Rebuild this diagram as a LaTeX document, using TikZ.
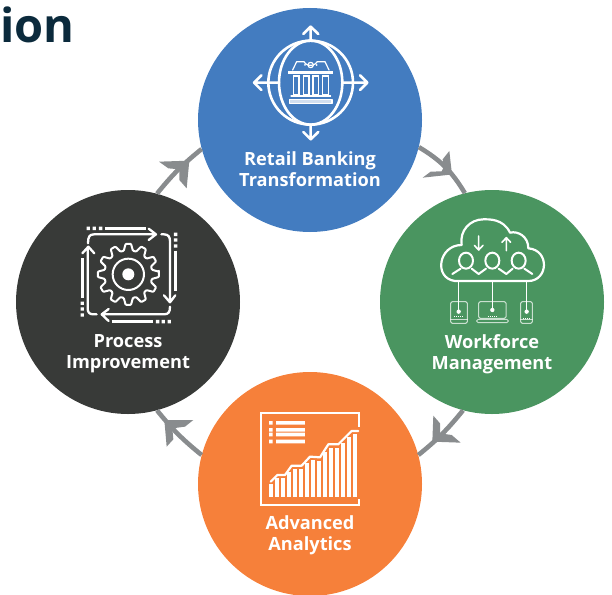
\documentclass[tikz,border=0pt]{standalone}
\usepackage{fontspec}
\usetikzlibrary{calc}
\setmainfont{Open Sans}
\definecolor{cblue}{HTML}{437CC0}
\definecolor{cgreen}{HTML}{4A9560}
\definecolor{corange}{HTML}{F6803A}
\definecolor{cdark}{HTML}{383A38}
\definecolor{cgray}{HTML}{898C8E}
\definecolor{cnavy}{HTML}{0B2A3C}
\tikzset{
  disc/.style={circle,minimum size=224pt,inner sep=0pt,fill=#1},
  lab/.style={text=white,font=\fontsize{18.2}{21}\selectfont\bfseries,align=center,inner sep=0pt},
  flow/.style={draw=cgray,line width=4.6pt},
  barb/.style={fill=cgray,draw=none},
  ic/.style={draw=white,line width=#1,line cap=round,line join=round,fill=none},
  ic/.default=1.8pt,
  zoomed/.style={shift={#1},x=0.3333pt,y=-0.3333pt}
}
\begin{document}
\begin{tikzpicture}[x=1pt,y=-1pt]
\useasboundingbox (0,0) rectangle (612,594);
\clip (0,0) rectangle (612,594);
\node[anchor=base west,inner sep=0pt,text=cnavy,font=\fontsize{47}{47}\selectfont\bfseries] (title) at (0,42) {ion};
\node[disc=cblue] (bank) at (310,120) {};
\node[disc=cgreen] (work) at (492,302) {};
\node[disc=corange] (ana) at (310,484) {};
\node[disc=cdark] (proc) at (128,302) {};
\draw[flow] (bank.-14) to[bend left=14] (work.104);
\draw[flow] (work.-105) to[bend left=6] (ana.15);
\draw[flow] (ana.165) to[bend left=6] (proc.-75);
\draw[flow] (proc.75) to[bend left=6] (bank.195);
\begin{scope}[zoomed={(400,130)}]
\fill[barb] (148,63)--(128,88)--(132,110)--(125,124)--(92,125)--(68,143)--(160,133)--(155,125)--cycle;
\end{scope}
\begin{scope}[zoomed={(140,130)}]
\fill[barb] (57,95)--(148,92)--(140,175)--(118,150)--(118,118)--(85,115)--cycle;
\end{scope}
\begin{scope}[zoomed={(140,400)}]
\fill[barb] (160,60)--(73,60)--(80,140)--(100,118)--(97,85)--(135,80)--cycle;
\end{scope}
\begin{scope}[zoomed={(400,400)}]
\fill[barb] (100,47)--(120,70)--(120,100)--(155,105)--(182,128)--(97,125)--cycle;
\end{scope}
% labels
\node[lab] (l1) at (310,169) {Retail Banking\\Transformation};
\node[lab] (l2) at (492,354) {Workforce\\Management};
\node[lab] (l3) at (128,354) {Process\\Improvement};
\node[lab] (l4) at (310,535.5) {Advanced\\Analytics};
% bank icon
\begin{scope}[zoomed={(230,10)}]
\draw[ic=2.6pt] (242,218) ellipse [x radius=127,y radius=126];
\draw[ic=2.6pt] (242,218) ellipse [x radius=95,y radius=126];
\draw[ic=2.6pt] (242,92)--(242,50) (220,72)--(242,50)--(265,72);
\draw[ic=2.6pt] (242,345)--(242,388) (220,366)--(242,388)--(265,366);
\draw[ic=2.6pt] (147,218)--(72,218) (94,196)--(72,218)--(94,240);
\draw[ic=2.6pt] (338,218)--(412,218) (390,196)--(412,218)--(390,240);
\draw[ic=1.2pt] (188,180)--(200,155)--(222,155) arc (160:20:21 and 17) --(285,155)--(297,180);
\draw[ic=1.2pt] (242,165) circle (8);
\fill[white] (225,165) circle (3) (260,165) circle (3);
\fill[white] (175,184) rectangle (310,192);
\foreach \x in {190,220,249,278}{
  \draw[ic=1.1pt] (\x,198) rectangle ++(17,57);
  \fill[white] (\x-2,194) rectangle ++(21,5);
}
\draw[ic=1.1pt] (183,258)--(302,258);
\draw[ic=1.1pt,fill=white!75!cblue] (178,268) rectangle (306,280);
\end{scope}
% workforce icon
\begin{scope}[zoomed={(420,210)}]
\draw[ic=2.2pt] (105,213)--(325,213) .. controls (385,213) and (390,120) .. (325,115)
  .. controls (325,80) and (295,62) .. (270,68)
  .. controls (250,25) and (205,28) .. (190,28)
  .. controls (150,28) and (118,62) .. (125,105)
  .. controls (55,105) and (40,205) .. (105,213) -- cycle;
\foreach \x in {138,217,296}{\draw[ic=2pt] (\x,152) ellipse [x radius=21,y radius=24];}
\draw[ic=2pt] (97,192)--(122,176) (155,176)--(176,192)--(198,176) (236,176)--(259,192)--(278,176) (313,176)--(337,192);
\draw[ic=1.6pt] (176,78)--(176,120) (163,106)--(176,120)--(189,106);
\draw[ic=1.6pt] (259,122)--(259,83) (246,97)--(259,83)--(272,97);
\draw[white,line width=1.1pt] (115,213)--(115,305) (217,213)--(217,300) (320,213)--(320,305);
\fill[white] (116,305) circle (6.5) (217,300) circle (6.5) (320,305) circle (6.5);
\begin{scope}[opacity=0.7]
\draw[ic=1pt,rounded corners=1.5pt] (92,275) rectangle (142,340);
\draw[ic=1pt] (92,328)--(142,328);
\draw[ic=1pt,rounded corners=1.5pt] (176,275) rectangle (258,325);
\draw[ic=1pt,rounded corners=1.5pt] (170,328) rectangle (265,338);
\draw[ic=1pt,rounded corners=1.5pt] (302,275) rectangle (337,340);
\draw[ic=1pt] (302,328)--(337,328);
\end{scope}
\draw[white,line width=0.8pt,dash pattern=on 1pt off 1pt] (103,319)--(132,319) (205,319)--(232,319) (310,325)--(330,325);
\end{scope}
% process icon
\begin{scope}[zoomed={(60,215)}]
\draw[ic=2pt,rounded corners=0.8pt] ($(205,178)+(-5:92)$) \foreach \a in {0,30,...,330}{
    -- ($(205,178)+(\a-5:92)$) -- ($(205,178)+(\a+5:92)$) -- ($(205,178)+(\a+11:72)$) -- ($(205,178)+(\a+19:72)$)
  } -- cycle;
\draw[ic=2pt] (205,178) circle (47);
\fill[white] (205,178) circle (18);
\draw[ic=2.3pt] (84,85) .. controls (84,66) and (88,58) .. (102,58) -- (285,58) (266,41)--(288,58)--(266,75);
\draw[ic=2.3pt] (304,58) -- (312,58) .. controls (325,58) and (330,66) .. (330,78) -- (330,258) (312,241)--(330,262)--(346,241);
\draw[ic=2.3pt] (330,275) .. controls (330,292) and (325,298) .. (312,298) -- (127,298) (146,282)--(125,298)--(146,318);
\draw[ic=2.3pt] (110,298) -- (100,298) .. controls (88,298) and (83,292) .. (83,280) -- (83,98) (67,115)--(85,95)--(103,115);
\draw[white,line width=2.5pt] (135,40)--(258,40) (347,107)--(347,228) (155,320)--(280,320) (67,130)--(67,250);
\fill[white] \foreach \x/\y in {85/40,103/40,122/40,347/58,347/75,347/93,293/320,310/320,328/320,67/265,67/282,67/300}{ (\x-5,\y-5) rectangle ++(10,10) };
\end{scope}
% analytics icon
\begin{scope}[zoomed={(250,400)}]
\draw[white,line width=2.2pt] (328,80)--(328,38)--(33,38)--(33,315)--(328,315)--(328,298);
\foreach \y in {63,84,98,119}{
  \fill[white] (57,\y) rectangle ++(11,11) (78,\y) rectangle ++(87,11);
}
\foreach \x/\t in {64/253,82/235,100/235,118/215,136/207,154/207,172/189,190/181,208/182,226/157,244/143,262/143,280/128,298/110,316/103}{
  \fill[white] (\x-6,\t) rectangle (\x+6,290);
}
\draw[ic=2.2pt] (62,245)--(82,225)--(105,225)--(125,197)--(155,197)--(180,170)--(210,172)--(235,133)--(265,133)--(305,93)--(325,93);
\end{scope}
\end{tikzpicture}
\end{document}
